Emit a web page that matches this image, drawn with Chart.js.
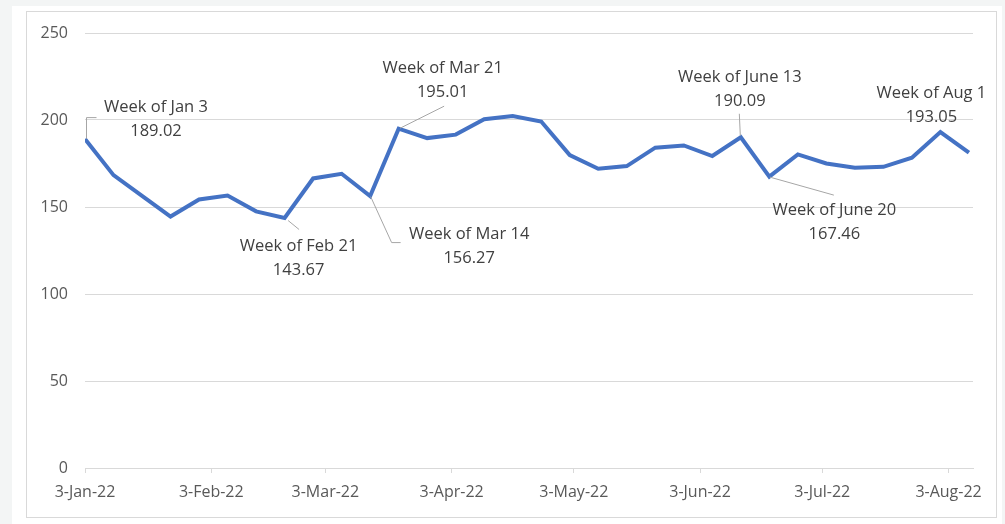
<!DOCTYPE html>
<html>
<head>
<meta charset="utf-8">
<script src="https://cdn.jsdelivr.net/npm/chart.js@4"></script>
<style>
  html, body { margin: 0; padding: 0; background: #f3f5f5; }
  #page { position: relative; width: 1005px; height: 524px; overflow: hidden; }
  #sheet { position: absolute; left: 12px; top: 6px; width: 990px; height: 518px; background: #ffffff; }
  #frame { position: absolute; left: 26px; top: 11px; width: 969px; height: 505px; border: 1px solid #d9d9d9; background: #ffffff; }
  #wrap { position: absolute; left: 0; top: 0; width: 1005px; height: 524px; }
</style>
</head>
<body>
<div id="page">
  <div id="sheet"></div>
  <div id="frame"></div>
  <div id="wrap"><canvas id="priceChart"></canvas></div>
</div>
<script>
// 週ごとのデータ
var weeks = [
  "2022-01-03", "2022-01-10", "2022-01-17", "2022-01-24", "2022-01-31",
  "2022-02-07", "2022-02-14", "2022-02-21", "2022-02-28",
  "2022-03-07", "2022-03-14", "2022-03-21", "2022-03-28",
  "2022-04-04", "2022-04-11", "2022-04-18", "2022-04-25",
  "2022-05-02", "2022-05-09", "2022-05-16", "2022-05-23", "2022-05-30",
  "2022-06-06", "2022-06-13", "2022-06-20", "2022-06-27",
  "2022-07-04", "2022-07-11", "2022-07-18", "2022-07-25",
  "2022-08-01", "2022-08-08"
];
var values = [
  189.02, 168.3, 156.4, 144.5, 154.3,
  156.6, 147.5, 143.67, 166.4,
  169.1, 156.27, 195.01, 189.6,
  191.6, 200.4, 202.3, 199.1,
  179.8, 172.0, 173.5, 184.1, 185.4,
  179.3, 190.09, 167.46, 180.2,
  175.0, 172.5, 173.1, 178.3,
  193.05, 181.2
];
// 軸の目盛り
var tickDates = ["2022-01-03", "2022-02-03", "2022-03-03", "2022-04-03", "2022-05-03", "2022-06-03", "2022-07-03", "2022-08-03"];
var tickLabels = ["3-Jan-22", "3-Feb-22", "3-Mar-22", "3-Apr-22", "3-May-22", "3-Jun-22", "3-Jul-22", "3-Aug-22"];
var yTicks = [0, 50, 100, 150, 200, 250];
// 注釈のある週
var noteIndex = [0, 7, 10, 11, 23, 24, 30];
var noteNames = ["Jan 3", "Feb 21", "Mar 14", "Mar 21", "June 13", "June 20", "Aug 1"];

var DAY = 86400000;
var start = Date.parse(weeks[0]);
function dayOffset(s) { return (Date.parse(s) - start) / DAY; }

var points = weeks.map(function(w, i) {
  return { x: dayOffset(w), y: values[i] };
});
var tickDays = tickDates.map(dayOffset);

// ラベルの位置とリーダー線 (点からのピクセル差)
var noteStyle = [
  { dx: 71, dy: -32, leader: [[1, -1], [1, -22], [11, -22]] },
  { dx: 14, dy: 28, leader: [[3, 2], [14, 11]] },
  { dx: 99, dy: 38, leader: [[0, 0], [21, 46], [30, 46]] },
  { dx: 44, dy: -60, leader: [[1, -1], [45, -23]] },
  { dx: -1, dy: -60, leader: [[-1, -2], [-2, -24]] },
  { dx: 65, dy: 34, leader: [[0, 0], [64, 18]] },
  { dx: -9, dy: -39, leader: null }
];

var notePlugin = {
  id: "notes",
  afterDatasetsDraw: function(chart) {
    var ctx = chart.ctx;
    var xs = chart.scales.x, ys = chart.scales.y;
    ctx.save();
    noteIndex.forEach(function(idx, k) {
      var px = xs.getPixelForValue(points[idx].x);
      var py = ys.getPixelForValue(points[idx].y);
      var st = noteStyle[k];
      if (st.leader) {
        ctx.strokeStyle = "#a6a6a6";
        ctx.lineWidth = 1;
        ctx.beginPath();
        st.leader.forEach(function(p, j) {
          if (j === 0) ctx.moveTo(px + p[0] + 0.5, py + p[1] + 0.5);
          else ctx.lineTo(px + p[0] + 0.5, py + p[1] + 0.5);
        });
        ctx.stroke();
      }
      ctx.fillStyle = "#404040";
      ctx.font = "16.5px 'Open Sans'";
      ctx.textAlign = "center";
      ctx.textBaseline = "middle";
      ctx.fillText("Week of " + noteNames[k], px + st.dx, py + st.dy);
      ctx.fillText(values[idx].toFixed(2), px + st.dx, py + st.dy + 24);
    });
    ctx.restore();
  }
};

var ctx = document.getElementById("priceChart").getContext("2d");
var chart = new Chart(ctx, {
  type: "line",
  data: {
    datasets: [{
      data: points,
      borderColor: "#4472c4",
      borderWidth: 4,
      pointRadius: 0,
      tension: 0,
      fill: false
    }]
  },
  options: {
    responsive: true,
    maintainAspectRatio: false,
    animation: false,
    layout: { padding: { top: 33, right: 32, left: 0, bottom: 0 } },
    plugins: { legend: { display: false }, tooltip: { enabled: false } },
    scales: {
      x: {
        type: "linear",
        min: 0,
        max: 218,
        afterBuildTicks: function(scale) {
          scale.ticks = tickDays.map(function(d) { return { value: d }; });
        },
        afterFit: function(scale) { scale.height = 56; },
        ticks: {
          autoSkip: false,
          maxRotation: 0,
          padding: 10,
          color: "#595959",
          font: { family: "'Open Sans'", size: 16 },
          callback: function(v) {
            var i = tickDays.indexOf(v);
            return i >= 0 ? tickLabels[i] : "";
          }
        },
        grid: { display: true, drawOnChartArea: false, drawTicks: true, tickLength: 5, color: "#d9d9d9" },
        border: { display: true, color: "#d9d9d9", width: 1 }
      },
      y: {
        min: 0,
        max: 250,
        afterBuildTicks: function(scale) {
          scale.ticks = yTicks.map(function(v) { return { value: v }; });
        },
        afterFit: function(scale) { scale.width = 85; },
        ticks: {
          padding: 17,
          color: "#595959",
          font: { family: "'Open Sans'", size: 16 }
        },
        grid: { color: "#d9d9d9", drawTicks: false },
        border: { display: false }
      }
    }
  },
  plugins: [notePlugin]
});
</script>
</body>
</html>
